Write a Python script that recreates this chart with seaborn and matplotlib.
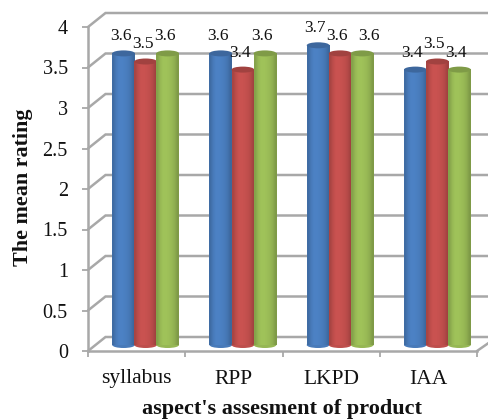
import numpy as np
import pandas as pd
import matplotlib
matplotlib.use("Agg")
import matplotlib.pyplot as plt
from matplotlib.patches import Ellipse
from matplotlib.colors import to_rgb
import seaborn as sns

categories = ["syllabus", "RPP", "LKPD", "IAA"]
series_names = ["Series 1", "Series 2", "Series 3"]
series_1 = [3.6, 3.6, 3.7, 3.4]
series_2 = [3.5, 3.4, 3.6, 3.5]
series_3 = [3.6, 3.6, 3.6, 3.4]
y_ticks = [0, 0.5, 1, 1.5, 2, 2.5, 3, 3.5, 4]
y_tick_labels = ["0", "0.5", "1", "1.5", "2", "2.5", "3", "3.5", "4"]
colors = ["#4A7EBF", "#C4504E", "#9BBD57"]

W, H = 488, 420
sns.set_theme(style="white")
plt.rcParams["font.family"] = ["Liberation Serif", "DejaVu Serif"]
GRID = "#A8A8A8"

def rect(l, r, top, bottom):
    return [l / W, 1 - bottom / H, (r - l) / W, (bottom - top) / H]

fig = plt.figure(figsize=(W / 100, H / 100), dpi=100)

# Frame axes: the front edge of the 3-D box
bg = fig.add_axes(rect(88, 477, 27, 351))
bg.set_xlim(-0.5, 3.5)
bg.set_ylim(0, 4)
bg.patch.set_alpha(0)
for s in ("top", "right"):
    bg.spines[s].set_visible(False)
for s in ("left", "bottom"):
    bg.spines[s].set_color(GRID)
    bg.spines[s].set_linewidth(1.8)
bg.set_yticks(y_ticks)
bg.set_yticklabels(y_tick_labels, fontsize=14.5, color="#111111")
bg.set_xticks(np.arange(-0.5, 4, 1))
bg.set_xticklabels([])
bg.tick_params(axis="both", length=4.5, width=1.3, color=GRID, left=True, bottom=True)
bg.tick_params(axis="y", pad=10)
for x, lab in zip(range(len(categories)), categories):
    bg.annotate(lab, (x, 0), xytext=(0, -28), textcoords="offset pixels",
                ha="center", va="center", fontsize=15.5, color="#111111",
                annotation_clip=False)

# Depth of the box, in data units of the frame axes
dx = 17.5 / 97.25
dy = 14 / 81
for v in y_ticks:
    bg.plot([-0.5, -0.5 + dx, 3.62], [v, v + dy, v + dy], color=GRID, lw=1.8,
            clip_on=False, solid_joinstyle="miter", zorder=1)
bg.plot([3.5, 3.62], [0, 0.1], color=GRID, lw=1.8, clip_on=False, zorder=1)

fig.text(282 / W, 1 - 409 / H, "aspect's assesment of product", ha="center", va="center",
         fontsize=16, fontweight="bold", color="#111111")
fig.text(23 / W, 1 - 187 / H, "The mean rating", ha="center", va="center", rotation=90,
         fontsize=15.8, fontweight="bold", color="#111111")

# Bars sit half-way into the depth of the box
ax = fig.add_axes(rect(97, 486, 21, 345))
ax.patch.set_alpha(0)
df = pd.DataFrame({
    "category": categories * 3,
    "series": np.repeat(series_names, len(categories)),
    "value": series_1 + series_2 + series_3,
})
sns.barplot(data=df, x="category", y="value", hue="series", palette=colors,
            width=0.68, gap=0, legend=False, ax=ax, saturation=1, linewidth=0)
ax.set_xlim(-0.5, 3.5)
ax.set_ylim(0, 4)
ax.axis("off")

shade = np.array([0.86, 0.97, 1.03, 1.03, 1.01, 0.98, 0.92, 0.82])
bars = list(ax.patches)
ell_h = 6 / 81
for i, bar in enumerate(bars):
    base = np.array(to_rgb(bar.get_facecolor()[:3]))
    n = len(categories)
    zo = 3 + (i % n) * 1.0 + (i // n) * 0.1
    l, w, h = bar.get_x(), bar.get_width(), bar.get_height()
    w2 = w * 1.03
    ax.add_patch(Ellipse((l + w / 2, 0), w2, ell_h, facecolor=base * 0.97, edgecolor="none",
                         zorder=zo, clip_on=False))
    grad = np.clip(shade[None, :, None] * base[None, None, :], 0, 1)
    ax.imshow(grad, extent=(l + w / 2 - w2 / 2, l + w / 2 + w2 / 2, 0, h), aspect="auto",
              interpolation="bilinear", zorder=zo + 0.01, clip_on=False)
    ax.add_patch(Ellipse((l + w / 2, h), w2, ell_h, facecolor=base * 0.82, edgecolor="none",
                         zorder=zo + 0.02, clip_on=False))
    bar.set_visible(False)
    nudge = 10 if (i // n == 2 and i % n == 2) else 0
    ax.annotate(f"{h:.1f}", (l + w / 2, h), xytext=(-3 + nudge, 17),
                textcoords="offset pixels", ha="center", va="center", fontsize=12.5,
                color="#111111", zorder=20, annotation_clip=False)
ax.set_xlim(-0.5, 3.5)
ax.set_ylim(0, 4)

fig.savefig("out.png", dpi=100)
